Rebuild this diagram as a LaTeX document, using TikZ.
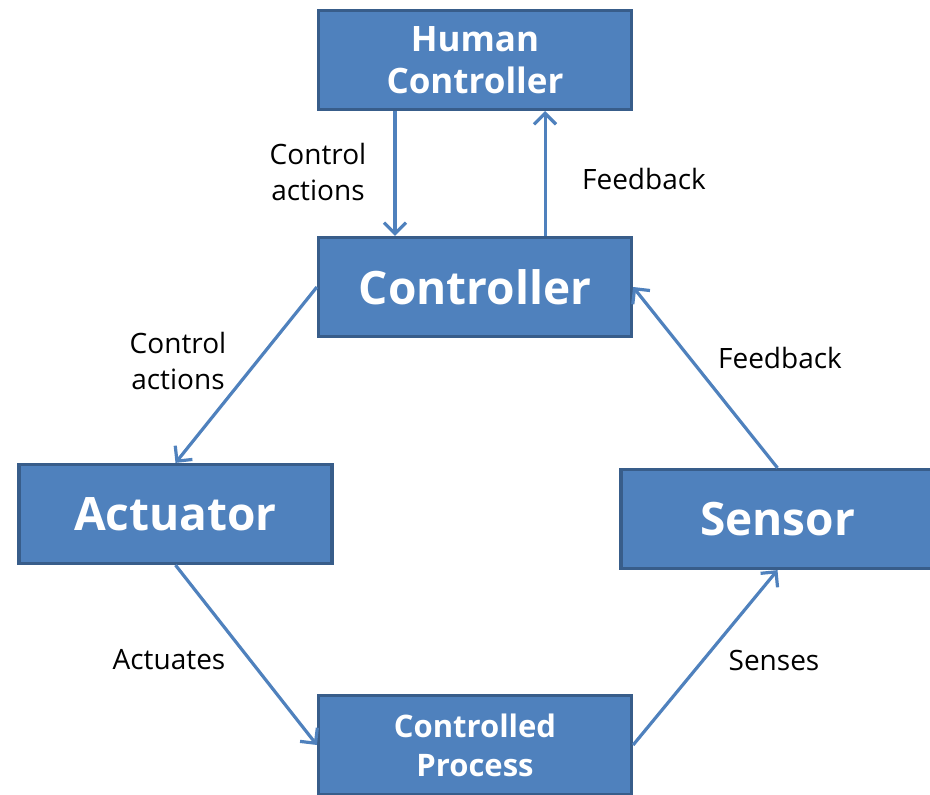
\documentclass[tikz,border=0pt]{standalone}
\usepackage{fontspec}
\setmainfont{Open Sans}
\usepackage{tikz}
\usetikzlibrary{arrows.meta, positioning}
\definecolor{boxfill}{HTML}{4F81BD}
\definecolor{boxline}{HTML}{385D8A}
\newcommand{\drawa}{\draw[line width=3.2pt, color=boxfill, ->]}

\begin{document}
\begin{tikzpicture}[x=1pt, y=-1pt, >={Straight Barb[length=11pt,width=22pt,line width=3.2pt]},
  blk/.style={draw=boxline, line width=3.2pt, fill=boxfill, text=white, align=center,
    minimum width=313pt, minimum height=99pt, inner sep=0pt},
  lbl/.style={font=\fontsize{28}{36}\selectfont, align=center}]
%\draw[color=blue] (0,0) grid (930,795);
\useasboundingbox (0,0) rectangle (930,795);
\clip (0,0) rectangle (930,795);

% Các khối
\node[blk, font=\fontsize{35}{42}\bfseries\selectfont] (human) at (475,60) {Human\\Controller};
\node[blk, font=\fontsize{46}{56}\bfseries\selectfont] (ctrl) at (475,287) {Controller};
\node[blk, font=\fontsize{46}{56}\bfseries\selectfont] (act) at (175.5,514) {Actuator};
\node[blk, font=\fontsize{46}{56}\bfseries\selectfont] (sens) at (777.5,519) {Sensor};
\node[blk, font=\fontsize{31}{39}\bfseries\selectfont] (proc) at (475,745) {Controlled\\Process};

% Các mũi tên
\drawa ([xshift=78pt]human.south west) -- ([xshift=78pt]ctrl.north west);
\drawa ([xshift=-88pt]ctrl.north east) -- ([xshift=-88pt]human.south east);
\drawa (ctrl.west) -- (act.north);
\drawa (act.south) -- (proc.west);
\drawa (proc.east) -- (sens.south);
\drawa (sens.north) -- (ctrl.east);

% Nhãn
\node[lbl] (ca1) at (318,172) {Control\\actions};
\node[lbl] (fb1) at (644,179) {Feedback};
\node[lbl] (ca2) at (178,361) {Control\\actions};
\node[lbl] (fb2) at (780,358) {Feedback};
\node[lbl] (act1) at (169,660) {Actuates};
\node[lbl] (sen1) at (774,660) {Senses};

\end{tikzpicture}
\end{document}
